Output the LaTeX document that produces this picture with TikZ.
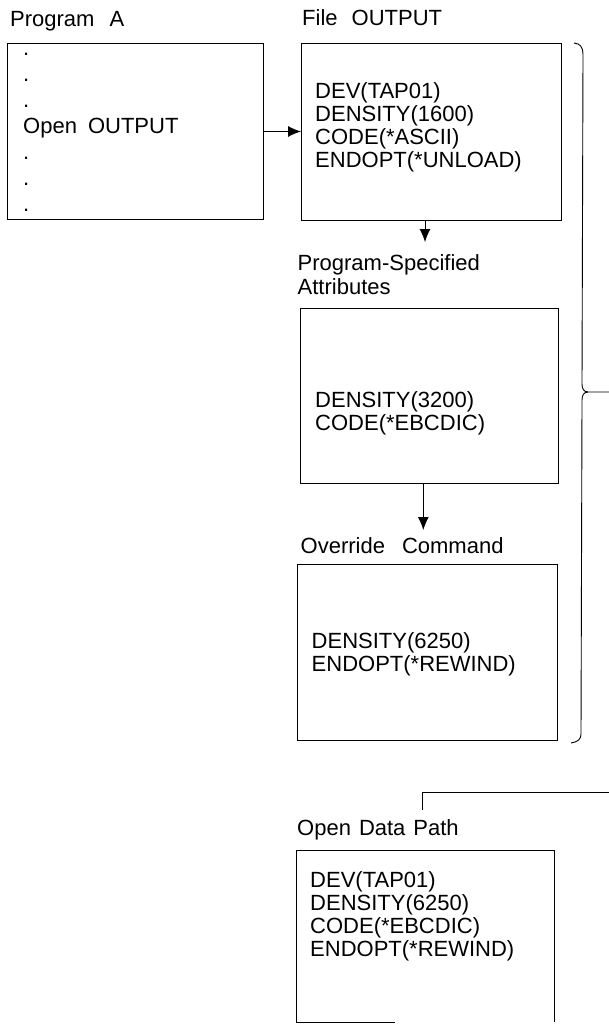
\documentclass[tikz,border=0pt]{standalone}
\usepackage{fontspec}
\setmainfont{Liberation Sans}
\usetikzlibrary{arrows.meta}
\begin{document}
\begin{tikzpicture}[x=1pt,y=-1pt,
  box/.style={draw, line width=1pt, rectangle, inner sep=0pt, anchor=north west},
  txt/.style={inner sep=0pt, anchor=base west, align=left, font=\fontsize{22}{23.3}\selectfont},
  lbl/.style={inner sep=0pt, anchor=base west, align=left, font=\fontsize{22}{24.5}\selectfont},
  arr/.style={line width=0.9pt, -{Latex[length=13pt,width=11pt]}},
  ln/.style={line width=0.9pt}]
\useasboundingbox (0,0) rectangle (609,1025);

% labels (base anchor = baseline of the last line)
\node[lbl] (l1) at (10,26.5) {Program\hspace{15pt}A};
\node[lbl] (l2) at (302,26) {File\hspace{14pt}OUTPUT};
\node[lbl] (l3) at (297.5,294.5) {Program-Specified\\Attributes};
\node[lbl] (l4) at (300.5,553) {Override\hspace{17pt}Command};
\node[lbl] (l5) at (297,835) {Open\hspace{8pt}Data\hspace{8pt}Path};

% boxes
\node[box, minimum width=256pt, minimum height=176pt] (b1) at (7,43) {};
\node[box, minimum width=260pt, minimum height=177pt] (b2) at (301,43) {};
\node[box, minimum width=258pt, minimum height=175pt] (b3) at (300,308) {};
\node[box, minimum width=260pt, minimum height=176pt] (b4) at (297,564) {};
\node[inner sep=0pt, rectangle, anchor=north west, minimum width=258pt, minimum height=172pt] (b5) at (296,850) {};
\draw[line width=1pt] (b5.south west) -- (b5.north west) -- (b5.north east) -- (b5.south east);
\draw[line width=1pt] (b5.south west) -- ++(99,0);

% texts
\node[txt, font=\fontsize{22}{26}\selectfont] (t1) at (23,211) {.\\.\\.\\Open\hspace{11pt}OUTPUT\\.\\.\\.};
\node[txt] (t2) at (315,167.9) {DEV(TAP01)\\DENSITY(1600)\\CODE(*ASCII)\\ENDOPT(*UNLOAD)};
\node[txt] (t3) at (315,430.3) {DENSITY(3200)\\CODE(*EBCDIC)};
\node[txt] (t4) at (311.5,671.3) {DENSITY(6250)\\ENDOPT(*REWIND)};
\node[txt] (t5) at (310,956.9) {DEV(TAP01)\\DENSITY(6250)\\CODE(*EBCDIC)\\ENDOPT(*REWIND)};

% connectors
\coordinate (a2s) at (425,220);
\coordinate (a2e) at (425,242);
\coordinate (a3s) at (423.3,483);
\coordinate (a3e) at (423.3,530);
\coordinate (c1) at (422,810);
\coordinate (c2) at (422,792);
\coordinate (c3) at (609,792);
\draw[arr] (b1.east) -- (b1.east -| b2.west);
\draw[arr] (a2s) -- (a2e);
\draw[arr] (a3s) -- (a3e);
\draw[ln] (c1) -- (c2) -- (c3);

% brace
\coordinate (br) at (609,392);
\draw[ln] (574,43) .. controls (580,43.5) and (583,47) .. (583,54)
  -- (582,384) .. controls (582,389) and (584,392) .. (588,392) -- (br);
\draw[ln] (588,392) .. controls (584,392) and (582,395) .. (582,400)
  -- (581,734) .. controls (581,739) and (578,742) .. (571,743);
\end{tikzpicture}
\end{document}
